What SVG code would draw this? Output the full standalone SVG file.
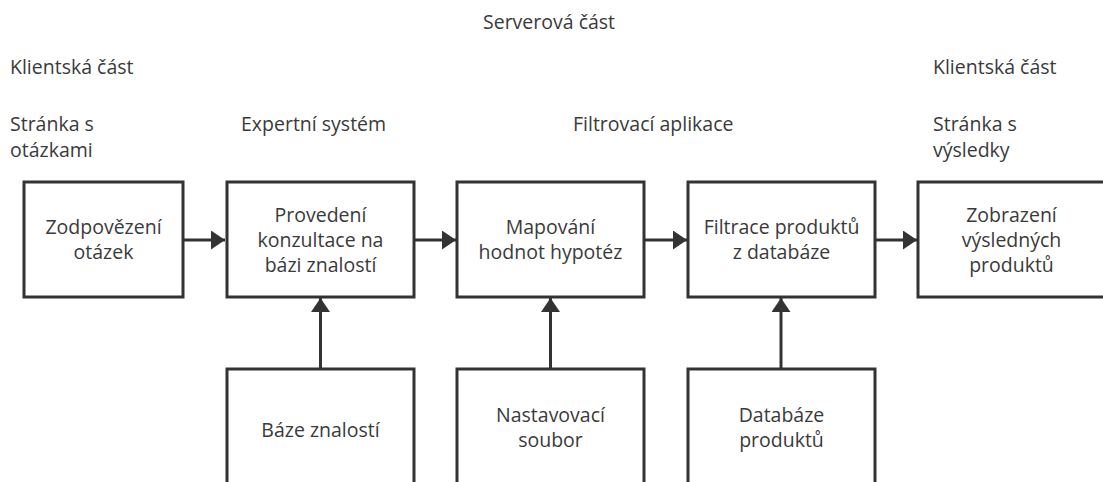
<svg xmlns="http://www.w3.org/2000/svg" width="1103" height="482" viewBox="0 0 1103 482">
<style>
  text { font-family: "Open Sans", "DejaVu Sans", sans-serif; font-size: 19.5px; fill: #3a3a3a; }
  .c { text-anchor: middle; }
  .box { fill: #ffffff; stroke: #333333; stroke-width: 3; }
  .edge { stroke: #333333; stroke-width: 3; fill: none; marker-end: url(#arrow); }
</style>
<defs>
  <marker id="arrow" markerUnits="userSpaceOnUse" markerWidth="14" markerHeight="19" refX="14" refY="9.5" orient="auto">
    <path d="M0,0 L14,9.5 L0,19 Z" fill="#333333"/>
  </marker>
</defs>
<rect width="1103" height="482" fill="#ffffff"/>

<g id="labels">
  <text x="483" y="29">Serverová část</text>
  <text x="10" y="74">Klientská část</text>
  <text x="10" y="131">Stránka s</text>
  <text x="10" y="157">otázkami</text>
  <text x="241" y="131">Expertní systém</text>
  <text x="573" y="131">Filtrovací aplikace</text>
  <text x="933" y="74">Klientská část</text>
  <text x="933" y="131">Stránka s</text>
  <text x="933" y="157">výsledky</text>
</g>

<g id="connectors">
  <line class="edge" x1="183" y1="240" x2="225" y2="240"/>
  <line class="edge" x1="414" y1="240" x2="456" y2="240"/>
  <line class="edge" x1="644" y1="240" x2="687" y2="240"/>
  <line class="edge" x1="875" y1="240" x2="917" y2="240"/>
  <line class="edge" x1="320.5" y1="369" x2="320.5" y2="298"/>
  <line class="edge" x1="550.5" y1="369" x2="550.5" y2="298"/>
  <line class="edge" x1="781" y1="369" x2="781" y2="298"/>
</g>

<g id="n1">
  <rect class="box" x="24" y="182" width="159" height="115"/>
  <text class="c" x="103.5" y="234">Zodpovězení</text>
  <text class="c" x="103.5" y="259">otázek</text>
</g>
<g id="n2">
  <rect class="box" x="227" y="182" width="187" height="115"/>
  <text class="c" x="320.5" y="222">Provedení</text>
  <text class="c" x="320.5" y="247">konzultace na</text>
  <text class="c" x="320.5" y="272">bázi znalostí</text>
</g>
<g id="n3">
  <rect class="box" x="457" y="182" width="187" height="115"/>
  <text class="c" x="550.5" y="234">Mapování</text>
  <text class="c" x="550.5" y="259">hodnot hypotéz</text>
</g>
<g id="n4">
  <rect class="box" x="688" y="182" width="187" height="115"/>
  <text class="c" x="781.5" y="234">Filtrace produktů</text>
  <text class="c" x="781.5" y="259">z databáze</text>
</g>
<g id="n5">
  <rect class="box" x="918" y="182" width="187" height="115"/>
  <text class="c" x="1011.5" y="222">Zobrazení</text>
  <text class="c" x="1011.5" y="247">výsledných</text>
  <text class="c" x="1011.5" y="272">produktů</text>
</g>
<g id="n6">
  <rect class="box" x="227" y="369" width="187" height="116"/>
  <text class="c" x="320.5" y="437">Báze znalostí</text>
</g>
<g id="n7">
  <rect class="box" x="457" y="369" width="187" height="116"/>
  <text class="c" x="550.5" y="422">Nastavovací</text>
  <text class="c" x="550.5" y="447">soubor</text>
</g>
<g id="n8">
  <rect class="box" x="688" y="369" width="187" height="116"/>
  <text class="c" x="781.5" y="422">Databáze</text>
  <text class="c" x="781.5" y="447">produktů</text>
</g>
</svg>
